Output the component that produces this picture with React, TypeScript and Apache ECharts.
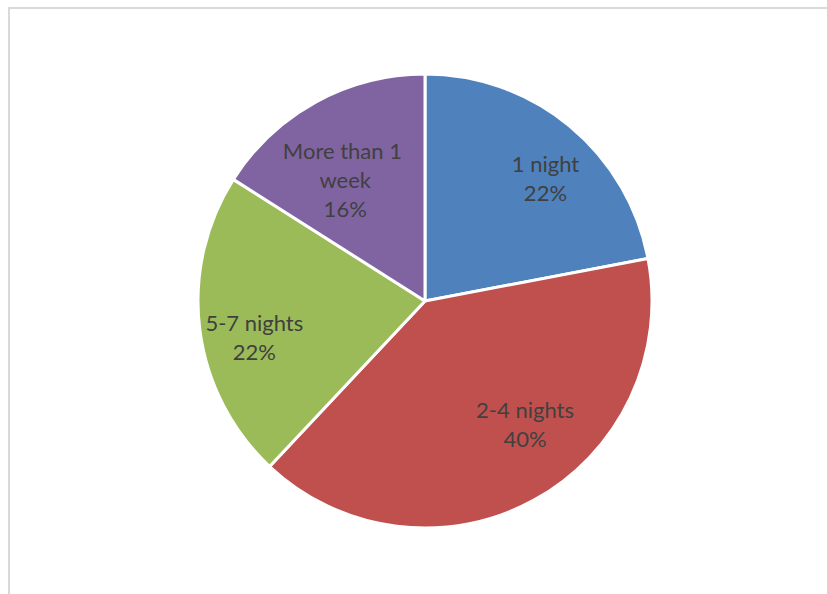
import React, { useEffect, useRef } from "react";
import * as echarts from "echarts";

// Length of stay shares (percent)
const categories = ["1 night", "2-4 nights", "5-7 nights", "More than 1 week"];
const shares = [22, 40, 22, 16];
const colors = ["#4F81BD", "#C0504D", "#9BBB59", "#8064A2"];

// Label placement inside each slice: angle shift (deg) from the slice's mid angle and radial fraction
const labelAngleShift = [4.9, -10.4, -4.6, -4.4];
const labelRadiusFrac = [0.757, 0.697, 0.768, 0.642];

const W = 827;
const H = 594;
const CX = 425;
const CY = 301;
const R = 227;

export default function App() {
  const ref = useRef<HTMLDivElement>(null);

  useEffect(() => {
    if (!ref.current) return;
    const chart = echarts.init(ref.current, null, { renderer: "svg" });

    const total = shares.reduce((a, b) => a + b, 0);
    const midAngles: number[] = [];
    let acc = 0;
    shares.forEach((v) => {
      midAngles.push(((acc + v / 2) / total) * 360);
      acc += v;
    });

    chart.setOption({
      animation: false,
      backgroundColor: "#ffffff",
      graphic: [
        {
          type: "rect",
          silent: true,
          shape: { x: 9, y: 8, width: W + 20, height: H + 20 },
          style: { fill: "none", stroke: "#d9d9d9", lineWidth: 2 },
        },
      ],
      series: [
        {
          type: "pie",
          center: [CX, CY],
          radius: [0, R],
          startAngle: 90,
          clockwise: true,
          avoidLabelOverlap: false,
          data: categories.map((name, i) => ({
            name,
            value: shares[i],
            itemStyle: { color: colors[i] },
          })),
          itemStyle: { borderColor: "#ffffff", borderWidth: 3 },
          emphasis: { disabled: true },
          label: {
            show: true,
            position: "inside",
            formatter: (p: any) => `${p.name}\n${Math.round(p.percent)}%`,
            fontFamily: "Lato, sans-serif",
            fontSize: 22,
            lineHeight: 29,
            color: "#404040",
            align: "center",
            verticalAlign: "middle",
            width: 130,
            overflow: "break",
          },
          labelLine: { show: false },
          labelLayout: (params: any) => {
            const i = params.dataIndex;
            const a = ((midAngles[i] + labelAngleShift[i]) * Math.PI) / 180;
            const rr = R * labelRadiusFrac[i];
            return {
              x: CX + rr * Math.sin(a),
              y: CY - rr * Math.cos(a),
              align: "center",
              verticalAlign: "middle",
            };
          },
        },
      ],
    });

    return () => chart.dispose();
  }, []);

  return (
    <div
      ref={ref}
      style={{ position: "fixed", left: 0, top: 0, width: W, height: H }}
    />
  );
}
